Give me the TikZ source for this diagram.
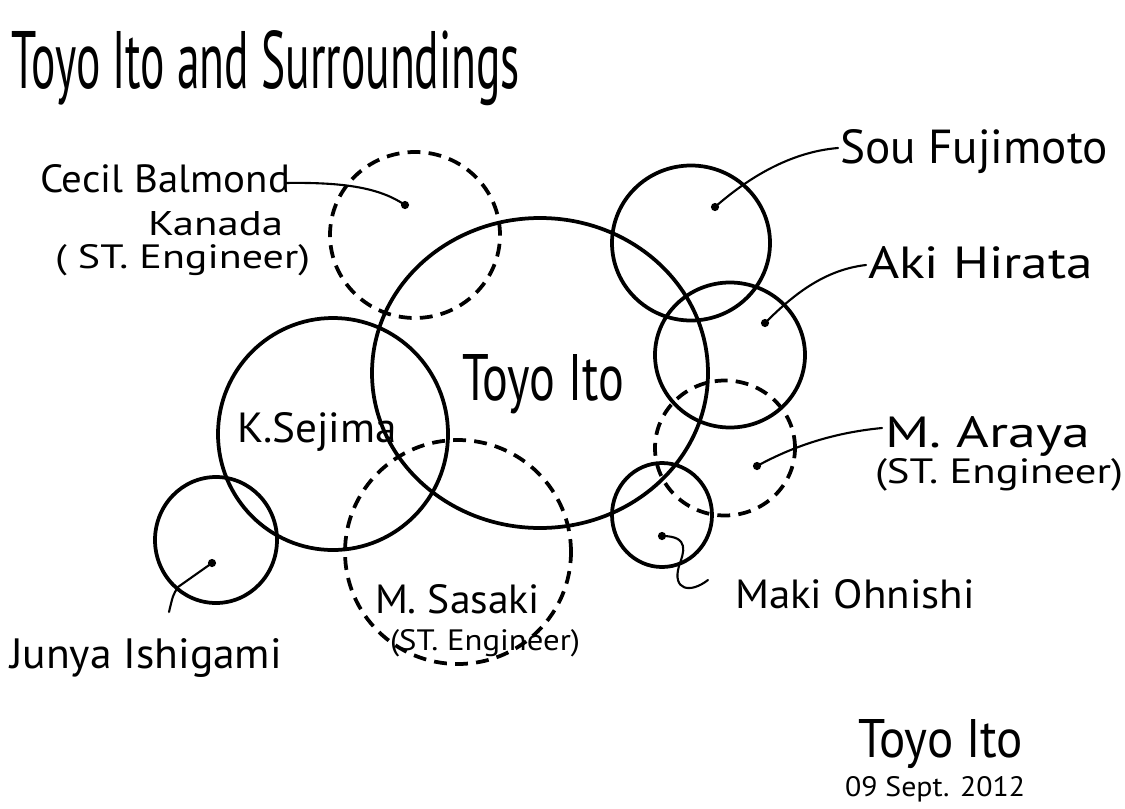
\documentclass[tikz,border=0pt]{standalone}
\usepackage{fontspec}
\setmainfont{PT Sans}
\usepackage{graphicx}
\usetikzlibrary{shapes.geometric}
\newlength\pxu
\setlength\pxu{0.03cm}
\newcommand\fitbox[3]{\resizebox{#1\pxu}{#2\pxu}{#3}}
\tikzset{
  person/.style={ellipse, draw=black, line width=3.2pt, inner sep=0pt},
  engineer/.style={person, dash pattern=on 11pt off 7pt},
  dotmark/.style={circle, fill=black, inner sep=0pt, minimum size=7pt},
  lbl/.style={anchor=base west, inner sep=0pt, outer sep=0pt},
  lead/.style={line width=1.8pt, line cap=round}
}
\begin{document}
\begin{tikzpicture}[x=0.03cm, y=-0.03cm]
\useasboundingbox (0,0) rectangle (1125,808);
\fill[white] (0,0) rectangle (1125,808);

% title
\node[lbl] (title) at (12,88) {\fitbox{508}{58}{Toyo Ito and Surroundings}};

% circles
\node[person, minimum width=336\pxu, minimum height=310\pxu] (ito) at (540,373) {};
\node[engineer, minimum width=170\pxu, minimum height=166\pxu] (cecil) at (415,235) {};
\node[person, minimum width=158\pxu, minimum height=155\pxu] (sou) at (691,243) {};
\node[person, minimum width=150\pxu, minimum height=145\pxu] (aki) at (730,355) {};
\node[engineer, minimum width=140\pxu, minimum height=135\pxu] (araya) at (725,448) {};
\node[person, minimum width=100\pxu, minimum height=104\pxu] (maki) at (662,515) {};
\node[person, minimum width=230\pxu, minimum height=232\pxu] (sejima) at (333,434) {};
\node[engineer, minimum width=226\pxu, minimum height=224\pxu] (sasaki) at (458,552) {};
\node[person, minimum width=122\pxu, minimum height=126\pxu] (junya) at (216,540) {};

% inner labels
\node[lbl] (itoT) at (462,400) {\fitbox{162}{46}{Toyo Ito}};
\node[lbl] (sejimaT) at (237,442) {\fitbox{160}{30}{K.Sejima}};
\node[lbl] (sasakiT) at (375,613) {\fitbox{165}{29}{M. Sasaki}};
\node[lbl] (sasakiE) at (390,650) {\fitbox{190}{21}{(ST. Engineer)}};

% outer labels
\node[lbl] (cecilT) at (40,192) {\fitbox{250}{28}{Cecil Balmond}};
\node[lbl] (cecilK) at (148,235) {\fitbox{135}{24}{Kanada}};
\node[lbl] (cecilE) at (55,268) {\fitbox{255}{24}{( ST. Engineer)}};
\node[lbl] (souT) at (840,163) {\fitbox{268}{34}{Sou Fujimoto}};
\node[lbl] (akiT) at (868,278) {\fitbox{225}{32}{Aki Hirata}};
\node[lbl] (arayaT) at (885,447) {\fitbox{205}{31}{M. Araya}};
\node[lbl] (arayaE) at (875,483) {\fitbox{248}{25}{(ST. Engineer)}};
\node[lbl] (makiT) at (735,608) {\fitbox{240}{29}{Maki Ohnishi}};
\node[lbl] (junyaT) at (10,668) {\fitbox{272}{30}{Junya Ishigami}};

% signature
\node[lbl] (sig) at (858,757) {\fitbox{165}{38}{Toyo Ito}};
\node[lbl] (date) at (845,796) {\fitbox{180}{20}{09 Sept. 2012}};

% dots
\node[dotmark] (dCecil) at (405,205) {};
\node[dotmark] (dSou) at (715,207) {};
\node[dotmark] (dAki) at (765,323) {};
\node[dotmark] (dAraya) at (757,466) {};
\node[dotmark] (dMaki) at (662,536) {};
\node[dotmark] (dJunya) at (212,563) {};

% leader end points
\coordinate (eCecil) at (285,183);
\coordinate (eSou) at (838,148);
\coordinate (eAki) at (866,265);
\coordinate (eAraya) at (882,428);
\coordinate (eMaki) at (708,580);
\coordinate (eJunya) at (169,612);
\coordinate (bJunya) at (178,587);

% leaders
\draw[lead] (eCecil) .. controls (345,182) and (380,188) .. (dCecil.center);
\draw[lead] (eSou) .. controls (790,152) and (748,178) .. (dSou.center);
\draw[lead] (eAki) .. controls (822,270) and (790,298) .. (dAki.center);
\draw[lead] (eAraya) .. controls (830,433) and (790,448) .. (dAraya.center);
\draw[lead] (dMaki.center) .. controls (690,536) and (684,552) .. (679,566)
  .. controls (672,590) and (690,594) .. (eMaki);
\draw[lead] (dJunya.center) -- (bJunya) .. controls (173,595) .. (eJunya);
\end{tikzpicture}
\end{document}
